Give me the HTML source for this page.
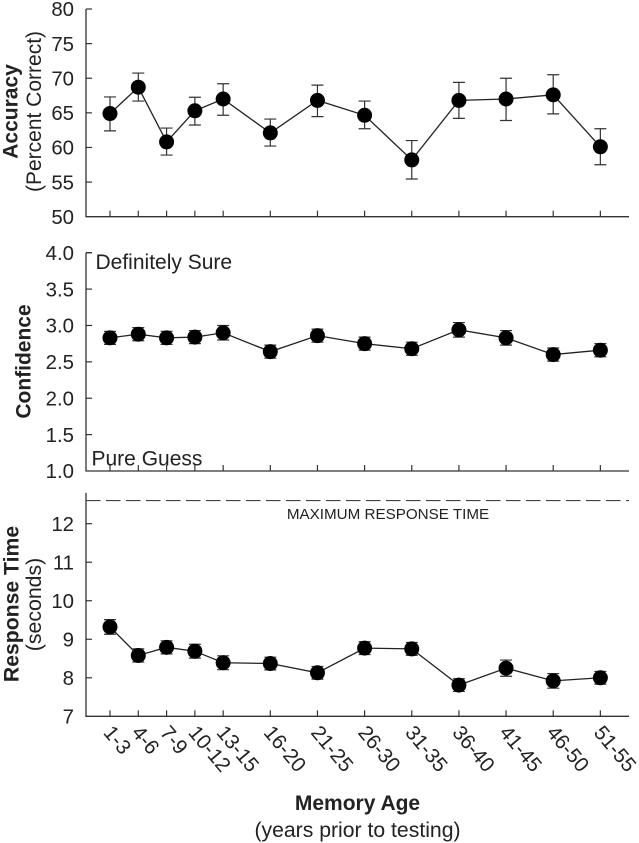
<!DOCTYPE html>
<html lang="en">
<head>
<meta charset="utf-8">
<title>Accuracy, confidence and response time by memory age</title>
<style>
html,body{margin:0;padding:0;background:#fff;}
svg{display:block;font-family:"Liberation Sans",Arial,sans-serif;fill:#222;}
</style>
</head>
<body>
<svg id="chart" width="639" height="843" viewBox="0 0 639 843" xmlns="http://www.w3.org/2000/svg"></svg>
<script>
const categories = ['1-3','4-6','7-9','10-12','13-15','16-20','21-25','26-30','31-35','36-40','41-45','46-50','51-55'];
const ageMidpoints = [2,5,8,11,14,19,24,29,34,39,44,49,54];

const accuracyValues = [64.9,68.7,60.8,65.3,67.0,62.1,66.8,64.65,58.2,66.8,67.0,67.6,60.1];
const accuracyUpper = [67.3,70.75,62.8,67.25,69.2,64.1,69.0,66.7,61.0,69.4,70.0,70.5,62.7];
const accuracyLower = [62.4,66.7,58.9,63.25,64.65,60.2,64.45,62.7,55.45,64.2,63.9,64.85,57.5];
const accuracyTicks = ['50','55','60','65','70','75','80'];

const confidenceValues = [2.83,2.88,2.83,2.84,2.90,2.64,2.86,2.75,2.68,2.94,2.83,2.60,2.66];
const confidenceErrors = [0.09,0.09,0.09,0.09,0.1,0.09,0.09,0.09,0.09,0.1,0.1,0.09,0.09];
const confidenceTicks = ['1.0','1.5','2.0','2.5','3.0','3.5','4.0'];

const responseValues = [9.32,8.58,8.79,8.69,8.39,8.37,8.13,8.77,8.75,7.81,8.25,7.92,8.0];
const responseErrors = [0.19,0.17,0.17,0.18,0.18,0.165,0.165,0.165,0.165,0.165,0.21,0.19,0.165];
const responseTicks = ['7','8','9','10','11','12'];
const maximumResponseTime = 12.6;

const svg = document.getElementById('chart');
const NS = 'http://www.w3.org/2000/svg';
const axisColor = '#333';

function xScale(age){ return 110 + (age - 2) * 9.43; }
function linear(d0, d1, r0, r1){ return v => r0 + (v - d0) * (r1 - r0) / (d1 - d0); }

function make(tag, attrs, parent){
  const el = document.createElementNS(NS, tag);
  for (const k in attrs) el.setAttribute(k, attrs[k]);
  (parent || svg).appendChild(el);
  return el;
}
function label(content, attrs, parent){
  const el = make('text', attrs, parent);
  el.textContent = content;
  return el;
}

function drawAxes(group, y, ticks, tickX, axisTop){
  const bottom = y(parseFloat(ticks[0]));
  const yAxis = make('line', {x1:86,x2:86,y1:axisTop,y2:bottom,stroke:axisColor,'stroke-width':1.3}, group);
  
  
  const xAxis = make('line', {x1:85.4,x2:629,y1:bottom,y2:bottom,stroke:axisColor,'stroke-width':1.3}, group);
  
  
  ticks.forEach(t => {
    const v = parseFloat(t);
    const py = y(v);
    if (v !== parseFloat(ticks[0])) {
      const tick = make('line', {x1:86,x2:92,y1:py,y2:py,stroke:axisColor,'stroke-width':1.2}, group);
      
      
    }
    const tl = label(t, {x:tickX,y:py+7.2,'text-anchor':'end','font-size':20.4}, group);
    
    
  });
  ageMidpoints.forEach(m => {
    const px = xScale(m);
    const tick = make('line', {x1:px,x2:px,y1:bottom,y2:bottom-6,stroke:axisColor,'stroke-width':1.2}, group);
    
    
  });
}

function drawSeries(group, y, values, upper, lower){
  const pts = values.map((v,i) => xScale(ageMidpoints[i]) + ',' + y(v)).join(' ');
  const line = make('polyline', {points:pts,fill:'none',stroke:'#222','stroke-width':1.3}, group);
  
  
  values.forEach((v,i) => {
    const px = xScale(ageMidpoints[i]);
    const hi = y(upper[i]), lo = y(lower[i]);
    const bar = make('path', {d:`M${px} ${hi}V${lo}M${px-6} ${hi}H${px+6}M${px-6} ${lo}H${px+6}`,fill:'none',stroke:'#333','stroke-width':1.2}, group);
    
    
    const dot = make('circle', {cx:px,cy:y(v),r:7.5,fill:'#000'}, group);
    
    
  });
}

function rotated(content, x, y, size, weight, name){
  const el = label(content, {transform:`translate(${x} ${y}) rotate(-90)`,'text-anchor':'middle','font-size':size,'font-weight':weight});
  
  
}

/* Accuracy */
const yAcc = linear(50, 80, 216.7, 9);
const gAcc = make('g', {});


drawAxes(gAcc, yAcc, accuracyTicks, 74, 9);
drawSeries(gAcc, yAcc, accuracyValues, accuracyUpper, accuracyLower);
rotated('Accuracy', 17.5, 111.5, 21, 'bold', 'accuracy-axis-title');
rotated('(Percent Correct)', 41, 111.5, 21, 'normal', 'accuracy-axis-subtitle');

/* Confidence */
const yConf = linear(1, 4, 471, 252.7);
const gConf = make('g', {});


drawAxes(gConf, yConf, confidenceTicks, 74, 252.7);
const confTop = make('line', {x1:86,x2:92,y1:252.7,y2:252.7,stroke:axisColor,'stroke-width':1.2}, gConf);


drawSeries(gConf, yConf, confidenceValues,
  confidenceValues.map((v,i) => v + confidenceErrors[i]),
  confidenceValues.map((v,i) => v - confidenceErrors[i]));
rotated('Confidence', 30.5, 361.5, 21, 'bold', 'confidence-axis-title');
const defSure = label('Definitely Sure', {x:95.5,y:269,'font-size':21});


const pureGuess = label('Pure Guess', {x:91.5,y:465.5,'font-size':21});



/* Response time */
const yRt = linear(7, 12, 716.3, 523.7);
const gRt = make('g', {});


drawAxes(gRt, yRt, responseTicks, 74, 492.7);
const maxLine = make('line', {x1:86,x2:629,y1:yRt(maximumResponseTime),y2:yRt(maximumResponseTime),stroke:'#444','stroke-width':1.1,'stroke-dasharray':'14.5 5.5'}, gRt);


const maxLabel = label('MAXIMUM RESPONSE TIME', {x:388,y:519,'text-anchor':'middle','font-size':15.2}, gRt);


drawSeries(gRt, yRt, responseValues,
  responseValues.map((v,i) => v + responseErrors[i]),
  responseValues.map((v,i) => v - responseErrors[i]));
rotated('Response Time', 18.5, 604, 21.2, 'bold', 'response-time-axis-title');
rotated('(seconds)', 41, 604.5, 21.3, 'normal', 'response-time-axis-subtitle');

/* Category labels */
categories.forEach((c,i) => {
  const px = xScale(ageMidpoints[i]);
  const el = label(c, {transform:`translate(${px-7.5} ${733}) rotate(50)`,'font-size':20.6});
  
  
});

const xTitle = label('Memory Age', {x:357.5,y:810,'text-anchor':'middle','font-size':21,'font-weight':'bold'});


const xSub = label('(years prior to testing)', {x:357.5,y:837,'text-anchor':'middle','font-size':21.2});


</script>
</body>
</html>
